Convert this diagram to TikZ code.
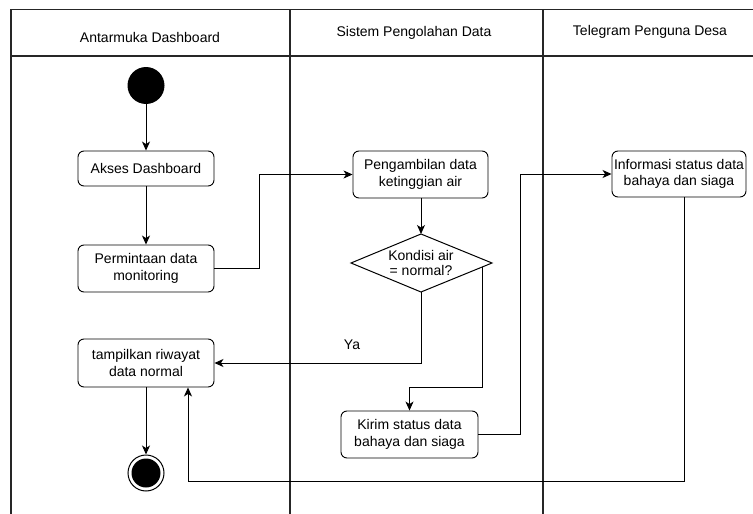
\documentclass[tikz,border=0pt]{standalone}
\usepackage{fontspec}
\setmainfont{Liberation Sans}
\usetikzlibrary{arrows.meta}
\begin{document}
\begin{tikzpicture}[x=1pt,y=-1pt,
  lane/.style={draw=black!85, line width=1.1pt},
  actbox/.style={draw=black, line width=0.9pt, rounded corners=6pt, fill=white, align=center, inner sep=0pt, font=\fontsize{14}{16.5}\selectfont},
  flow/.style={draw=black, line width=1pt, -{Stealth[length=9pt,width=8pt,inset=2.5pt]}},
  hdr/.style={font=\fontsize{14}{17}\selectfont, inner sep=0pt},
  lbl/.style={font=\fontsize{14}{17}\selectfont, inner sep=0pt}]
\useasboundingbox (0,0) rectangle (753,514);
% swimlanes
\draw[lane] (753,9.5) -- (11,9.5) -- (11,514);
\draw[lane] (11,56) -- (753,56);
\draw[lane] (290,9.5) -- (290,514);
\draw[lane] (543,9.5) -- (543,514);
\node[hdr] (h1) at (150,37) {Antarmuka Dashboard};
\node[hdr] (h2) at (414,33) {Sistem Pengolahan Data};
\node[hdr] (h3) at (650,32) {Telegram Penguna Desa};
% start
\node[circle, fill=black, minimum size=37pt, inner sep=0pt] (start) at (146,85.5) {};
% activities
\node[actbox, minimum width=136pt, minimum height=35pt] (akses) at (146,168.5) {Akses Dashboard};
\node[actbox, minimum width=136pt, minimum height=47pt] (minta) at (146,268.5) {Permintaan data\\monitoring};
\node[actbox, minimum width=136pt, minimum height=48pt] (tampil) at (146,363) {tampilkan riwayat\\data normal};
\node[actbox, minimum width=135pt, minimum height=47pt] (ambil) at (420.5,174.5) {Pengambilan data\\ketinggian air};
\node[actbox, minimum width=137pt, minimum height=47pt] (kirim) at (409.5,434.5) {Kirim status data\\bahaya dan siaga};
\node[actbox, minimum width=134pt, minimum height=46pt] (info) at (679,174) {Informasi status data\\bahaya dan siaga};
% decision
\coordinate (dT) at (421,234);
\coordinate (dB) at (421,292);
\coordinate (dL) at (351,263);
\coordinate (dR) at (492,263);
\draw[line width=1pt, fill=white] (dT) -- (dR) -- (dB) -- (dL) -- cycle;
\node[align=center, font=\fontsize{14}{14.5}\selectfont, inner sep=0pt] (dtext) at (421,263) {Kondisi air\\= normal?};
\coordinate (dX) at (482,267.1);
% end
\node[circle, draw=black, line width=1pt, fill=white, minimum size=36pt, inner sep=0pt] (end) at (146,473) {};
\node[circle, fill=black, minimum size=29pt, inner sep=0pt] (endin) at (end.center) {};
% connectors
\draw[flow] (start) -- (akses);
\draw[flow] (akses) -- (minta);
\draw[flow] (minta.east) -- ++(45,0) |- (ambil.west);
\draw[flow] (ambil.south -| dT) -- (dT);
\draw[flow] (dB) |- (tampil.east);
\node[lbl] (ya) at (352,345) {Ya};
\coordinate (k1) at (482,387);
\draw[flow] (dX) -- (k1) -| (kirim.north);
\draw[flow] (kirim.east) -- ++(42,0) |- (info.west);
\coordinate (i1) at ([xshift=5pt]info.south);
\coordinate (t1) at ([xshift=42pt]tampil.south);
\draw[flow] (i1) -- ++(0,284) -| (t1);
\draw[flow] (tampil) -- (end);
\end{tikzpicture}
\end{document}
